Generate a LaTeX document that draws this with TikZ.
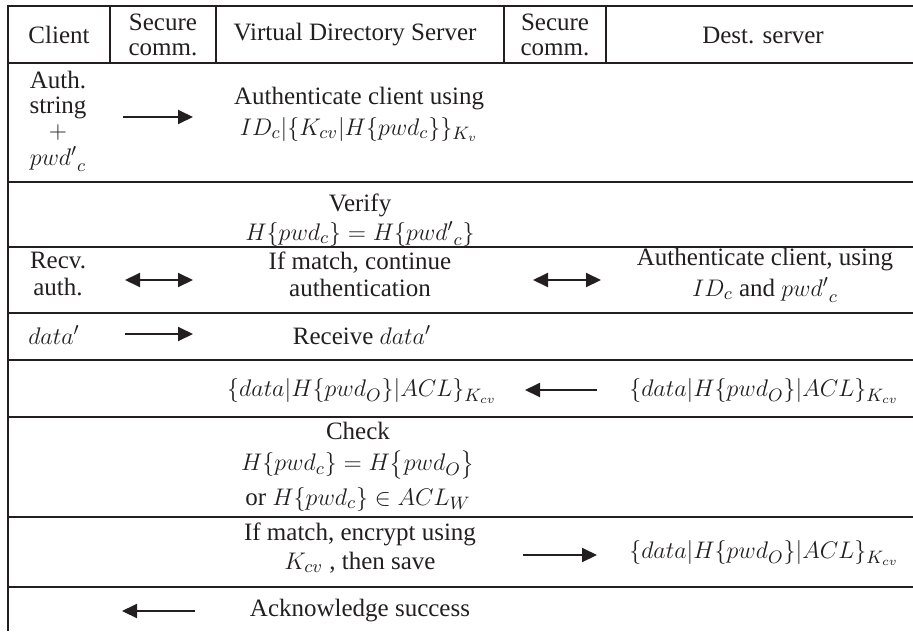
\documentclass[tikz,border=0pt]{standalone}
\usepackage{amsmath}
\usepackage{fontspec}
\setmainfont{Liberation Serif}
\usetikzlibrary{arrows.meta}
\definecolor{ink}{HTML}{231F20}

\begin{document}
\begin{tikzpicture}[x=0.5pt,y=-0.5pt,color=ink,
  >={Triangle[length=7.5pt,width=7pt]},
  cell/.style={align=center,inner sep=0pt,font=\fontsize{12.5}{12.5}\selectfont},
  rule/.style={line width=1.1pt},
  msg/.style={->,line width=1pt}]
\useasboundingbox (0,0) rectangle (913,631);

% table rules
\draw[rule] (913,6) -- (8,6) -- (8,631);
\foreach \y in {63,182,247,313,360,417,517,587}
  \draw[rule] (8,\y) -- (913,\y);
\foreach \x in {110,216,504,606}
  \draw[rule] (\x,6) -- (\x,63);

% header
\node[cell] (client) at (59,35) {Client};
\node[cell] (comm1) at (163,35) {Secure\\comm.};
\node[cell] (vds) at (355,35) {Virtual Directory Server};
\node[cell] (comm2) at (555,35) {Secure\\comm.};
\node[cell] (dest) at (763,35) {Dest. server};

% rows
\node[cell] (authstr) at (58,121) {Auth.\\string\\$+$\\[1pt]${pwd'}_c$};
\node[cell] (authvds) at (359,114)
  {Authenticate client using\\[3pt]$ID_c|\{K_{cv}|H\{pwd_c\}\}_{K_v}$};
\node[cell] (verify) at (360,220) {Verify\\[2pt]$H\{pwd_c\}=H\{{pwd'}_c\}$};
\node[cell] (recv) at (58,274) {Recv.\\[1pt]auth.};
\node[cell] (cont) at (360,274) {If match, continue\\[1pt]authentication};
\node[cell] (authdst) at (765,275) {Authenticate client, using\\[3pt]$ID_c$ and ${pwd'}_c$};
\node[cell] (data) at (54,335) {$data'$};
\node[cell] (rcv) at (362,335) {Receive $data'$};
\node[cell] (encv) at (362,391) {$\{data|H\{pwd_O\}|ACL\}_{K_{cv}}$};
\node[cell] (encd) at (764,391) {$\{data|H\{pwd_O\}|ACL\}_{K_{cv}}$};
\node[cell] (check) at (358,467)
  {Check\\[3pt]$H\{pwd_c\}=H\bigl\{pwd_O\bigr\}$\\[3pt]or $H\{pwd_c\}\in ACL_W$};
\node[cell] (save) at (360,548) {If match, encrypt using\\[2pt]$K_{cv}$ , then save};
\node[cell] (store) at (764,553) {$\{data|H\{pwd_O\}|ACL\}_{K_{cv}}$};
\node[cell] (ack) at (360,611) {Acknowledge success};

% messages
\coordinate (m1a) at (123,117); \coordinate (m1b) at (193,117);
\coordinate (m3a) at (125,280); \coordinate (m3b) at (193,280);
\coordinate (m3c) at (533,280); \coordinate (m3d) at (601,280);
\coordinate (m4a) at (125,334); \coordinate (m4b) at (193,334);
\coordinate (m5a) at (597,390); \coordinate (m5b) at (525,390);
\coordinate (m7a) at (523,555); \coordinate (m7b) at (597,555);
\coordinate (m8a) at (195,611); \coordinate (m8b) at (122,611);

\draw[msg] (m1a) -- (m1b);
\draw[msg,<->] (m3a) -- (m3b);
\draw[msg,<->] (m3c) -- (m3d);
\draw[msg] (m4a) -- (m4b);
\draw[msg] (m5a) -- (m5b);
\draw[msg] (m7a) -- (m7b);
\draw[msg] (m8a) -- (m8b);
\end{tikzpicture}
\end{document}
